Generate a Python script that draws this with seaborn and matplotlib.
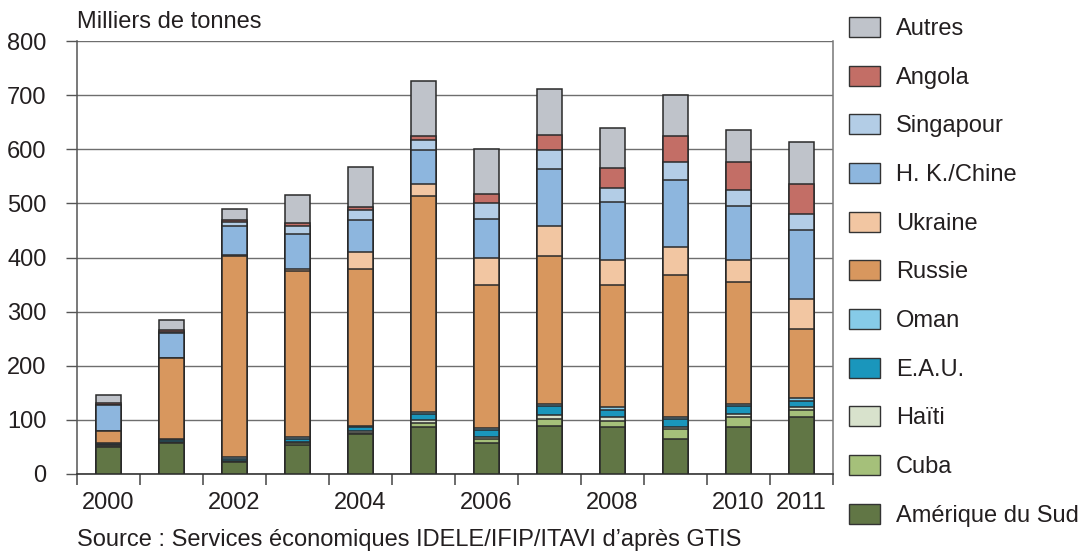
import matplotlib
matplotlib.use("Agg")
import matplotlib.pyplot as plt
from matplotlib.patches import Patch
from matplotlib.ticker import FixedLocator
import numpy as np
import pandas as pd
import seaborn as sns

years = ["2000", "2001", "2002", "2003", "2004", "2005",
         "2006", "2007", "2008", "2009", "2010", "2011"]
year_labels = ["2000", "", "2002", "", "2004", "", "2006", "", "2008", "", "2010", "2011"]

# Series in stacking order (bottom -> top), thousand tonnes
amerique_sud = [49, 57, 22, 53, 73, 87, 58, 88, 87, 64, 87, 105]
cuba         = [2, 1, 1, 4, 3, 8, 6, 14, 11, 19, 19, 14]
haiti        = [2, 1, 1, 3, 4, 4, 4, 7, 7, 4, 5, 4]
eau          = [2, 3, 4, 5, 6, 11, 13, 16, 14, 14, 14, 12]
oman         = [2, 3, 3, 4, 3, 4, 4, 4, 4, 4, 4, 5]
russie       = [22, 150, 372, 306, 289, 400, 265, 274, 227, 262, 226, 128]
ukraine      = [0, 0, 1, 3, 32, 22, 50, 56, 45, 53, 40, 56]
hk_chine     = [48, 46, 55, 66, 59, 63, 72, 104, 107, 123, 100, 126]
singapour    = [1, 1, 6, 15, 19, 19, 28, 36, 26, 33, 30, 30]
angola       = [3, 4, 5, 5, 5, 7, 17, 27, 38, 49, 52, 56]
autres       = [15, 19, 19, 51, 74, 101, 83, 85, 74, 75, 59, 78]

series_names = ["Amérique du Sud", "Cuba", "Haïti", "E.A.U.", "Oman", "Russie",
                "Ukraine", "H. K./Chine", "Singapour", "Angola", "Autres"]
series_values = [amerique_sud, cuba, haiti, eau, oman, russie,
                 ukraine, hk_chine, singapour, angola, autres]
series_colors = ["#617645", "#a5c07a", "#d8e2cc", "#1a96bc", "#86cbe8", "#d8975e",
                 "#f2c6a2", "#8db6de", "#b3cde6", "#c36e66", "#bfc3ca"]

text_color = "#231f20"
edge_color = "#2a2a2a"
font_size = 17.0

sns.set_theme(style="white")
plt.rcParams["font.family"] = ["Liberation Sans", "DejaVu Sans"]
plt.rcParams["text.color"] = text_color

fig = plt.figure(figsize=(10.85, 5.53), dpi=100)
ax = fig.add_axes([77 / 1085, 1 - 474 / 553, (833 - 77) / 1085, (474 - 41) / 553])

# Stacked bars: draw cumulative totals from the top layer downwards
df = pd.DataFrame(dict(zip(series_names, series_values)), index=years)
cum = df.cumsum(axis=1)
for name, color in reversed(list(zip(series_names, series_colors))):
    sns.barplot(x=years, y=cum[name].values, color=color, edgecolor=edge_color,
                linewidth=1.1, width=0.4, saturation=1, ax=ax, zorder=3)

ax.set_xlim(-0.5, 11.5)
ax.set_ylim(0, 800)
ax.set_yticks(np.arange(0, 801, 100))
ax.yaxis.grid(True, color="#6e6e6e", linewidth=1.0, zorder=0)
ax.xaxis.grid(False)
ax.set_axisbelow(True)

# x axis: labels centred on bars, tick marks between bars
ax.set_xticks(range(len(years)))
ax.set_xticklabels(year_labels)
ax.xaxis.set_minor_locator(FixedLocator(np.arange(-0.5, 12, 1.0)))
ax.tick_params(axis="x", which="major", length=0, pad=13,
               labelsize=font_size, labelcolor=text_color)
ax.tick_params(axis="x", which="minor", length=8, width=1.1, color="#444444",
               direction="out", bottom=True)
ax.tick_params(axis="y", which="major", length=8, width=1.0, color="#555555",
               direction="out", left=True, pad=14,
               labelsize=font_size, labelcolor=text_color)

for side in ["left", "right", "bottom"]:
    ax.spines[side].set_visible(True)
ax.spines["top"].set_visible(False)
ax.spines["left"].set_color("#555555")
ax.spines["right"].set_color("#777777")
ax.spines["bottom"].set_color("#333333")
ax.spines["left"].set_linewidth(1.1)
ax.spines["right"].set_linewidth(1.1)
ax.spines["bottom"].set_linewidth(1.2)
ax.set_xlabel("")
ax.set_ylabel("")

fig.text(77 / 1085, 1 - 22 / 553, "Milliers de tonnes", fontsize=font_size,
         color=text_color, ha="left", va="center")
fig.text(77 / 1085, 1 - 540 / 553,
         "Source : Services économiques IDELE/IFIP/ITAVI d\u2019après GTIS",
         fontsize=font_size, color=text_color, ha="left", va="center")

handles = [Patch(facecolor=c, edgecolor="#333333", linewidth=1.0, label=n)
           for n, c in zip(series_names, series_colors)][::-1]
fig.legend(handles=handles, loc="upper left", bbox_to_anchor=(849 / 1085, 1 - 17 / 553),
           frameon=False, fontsize=font_size, handlelength=1.32, handleheight=0.93,
           handletextpad=0.68, labelspacing=1.08, borderpad=0, borderaxespad=0,
           labelcolor=text_color)

fig.savefig("out.png", dpi=100)
